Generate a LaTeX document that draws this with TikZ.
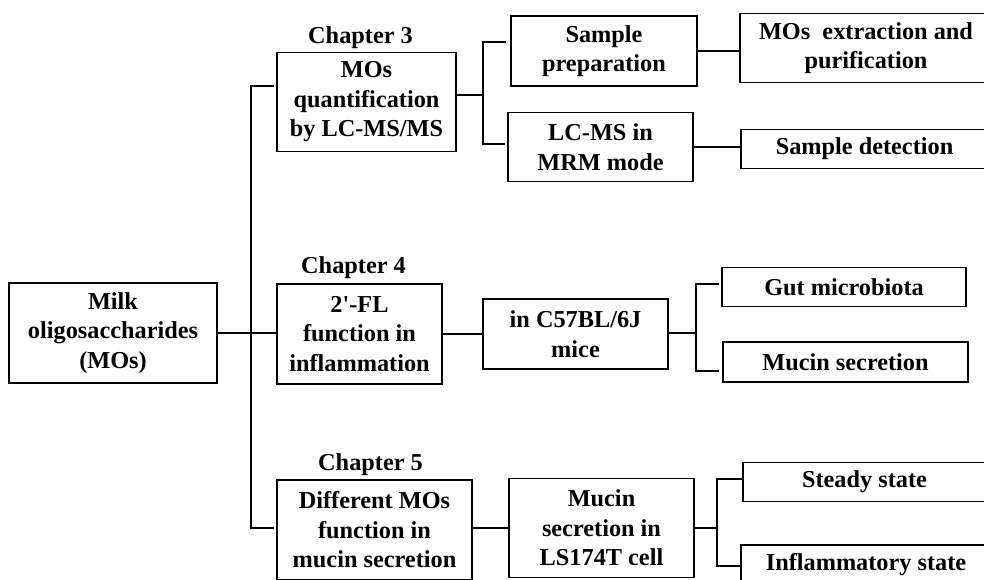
\documentclass[tikz,border=0pt]{standalone}
\usepackage{fontspec}
\setmainfont{Liberation Serif}[Ligatures=TeXOff]
\begin{document}
\begin{tikzpicture}[x=1pt,y=-1pt,
  box/.style={draw, line width=1.8pt, inner sep=0pt, align=center,
    font=\fontsize{24.3}{29.5}\selectfont\bfseries},
  chap/.style={anchor=base, inner sep=0pt, font=\fontsize{24.3}{29.5}\selectfont\bfseries},
  conn/.style={line width=1.6pt}]
\useasboundingbox (0,0) rectangle (984,579);
\clip (0,0) rectangle (984,579);
% nodes
\node[box, minimum width=208pt, minimum height=100pt] (milk) at (113,333) {Milk\\oligosaccharides\\(MOs)};
\node[box, minimum width=179pt, minimum height=99pt] (mq) at (366.5,102) {MOs\\quantification\\by LC-MS/MS};
\node[box, minimum width=165pt, minimum height=100pt] (fl) at (359.5,334) {2'-FL\\function in\\inflammation};
\node[box, minimum width=195pt, minimum height=100pt] (dm) at (374.5,530) {Different MOs\\function in\\mucin secretion};
\node[chap] (c3) at (360.5,43) {Chapter 3};
\node[chap] (c4) at (353.5,273) {Chapter 4};
\node[chap] (c5) at (370.5,470) {Chapter 5};
\node[box, minimum width=186pt, minimum height=70pt] (sp) at (604,51) {Sample\\preparation};
\node[box, minimum width=185pt, minimum height=69pt] (lc) at (600.5,147) {LC-MS in\\MRM mode};
\node[box, minimum width=185pt, minimum height=70pt] (c57) at (575.5,334) {in C57BL/6J\\mice};
\node[box, minimum width=185pt, minimum height=99pt] (mu) at (601.5,528) {Mucin\\secretion in\\LS174T cell};
\node[box, minimum width=252pt, minimum height=69pt] (ex) at (866,48) {MOs\ \ extraction and\\purification};
\node[box, minimum width=247pt, minimum height=39pt] (sd) at (864.5,149) {Sample detection};
\node[box, minimum width=244pt, minimum height=39pt] (gm) at (844,287) {Gut microbiota};
\node[box, minimum width=245pt, minimum height=40pt] (ms) at (845.5,362) {Mucin secretion};
\node[box, minimum width=243pt, minimum height=39pt] (ss) at (864.5,482) {Steady state};
\node[box, minimum width=250pt, minimum height=40pt] (is) at (866,565) {Inflammatory state};
% trunk
\coordinate (tA) at (251,86);
\coordinate (tB) at (251,528);
\coordinate (tAe) at (274,86);
\coordinate (tBe) at (274,528);
\draw[conn] (tAe) -- (tA) -- (tB) -- (tBe);
\draw[conn] (milk.east) -- (milk.east -| fl.west);
% chapter 3 branch
\coordinate (b1) at (483,95);
\coordinate (b1t) at (483,42);
\coordinate (b1b) at (483,144);
\coordinate (s1) at (506,42);
\coordinate (s2) at (505,144);
\draw[conn] (mq.east |- b1) -- (b1);
\draw[conn] (s1) -- (b1t) -- (b1b) -- (s2);
\draw[conn] (sp.east) -- (ex.west |- sp.east);
\draw[conn] (lc.east) -- (sd.west |- lc.east);
% chapter 4 branch
\draw[conn] (fl.east) -- (c57.west);
\coordinate (b2) at (696,333);
\coordinate (b2t) at (696,284);
\coordinate (b2b) at (696,371);
\coordinate (s3) at (719,284);
\coordinate (s4) at (719,371);
\draw[conn] (c57.east |- b2) -- (b2);
\draw[conn] (s3) -- (b2t) -- (b2b) -- (s4);
% chapter 5 branch
\draw[conn] (dm.east |- mu.west) -- (mu.west);
\coordinate (b3) at (717,528);
\coordinate (b3t) at (717,479);
\coordinate (b3b) at (717,566);
\coordinate (s5) at (742,479);
\coordinate (s6) at (742,566);
\draw[conn] (mu.east |- b3) -- (b3);
\draw[conn] (s5) -- (b3t) -- (b3b) -- (s6);
\end{tikzpicture}
\end{document}
